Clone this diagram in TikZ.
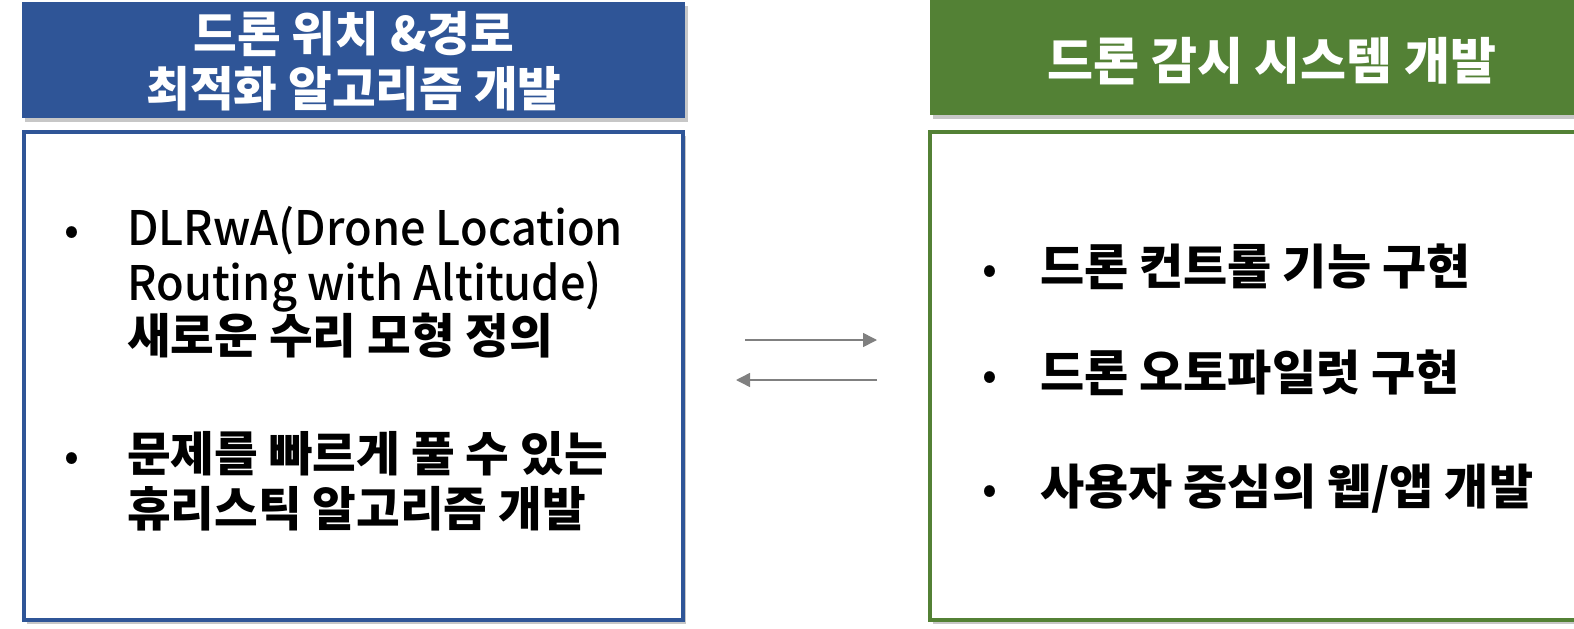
\documentclass[tikz,border=0pt]{standalone}
\usepackage{fontspec}
\setmainfont{Noto Sans CJK KR}
\newfontfamily\latmed{Noto Sans CJK KR Medium}[FakeStretch=0.95]
\usetikzlibrary{shadows,arrows.meta}
\definecolor{hblue}{HTML}{2F5597}
\definecolor{hgreen}{HTML}{538135}
\definecolor{agray}{HTML}{808080}
\tikzset{
  shd/.style={drop shadow={shadow xshift=3pt,shadow yshift=-4pt,fill=black,opacity=0.22}},
  headbox/.style={shd},
  contbox/.style={shd,fill=white,line width=4pt},
  headtxt/.style={text=white,anchor=base,inner sep=0pt},
  bodytxt/.style={anchor=base west,inner sep=0pt,font=\fontsize{47.5}{54}\selectfont},
  bodyr/.style={anchor=base west,inner sep=0pt,font=\bfseries\fontsize{48}{54}\selectfont},
  bul/.style={anchor=base,inner sep=0pt,font=\fontsize{44}{54}\selectfont},
  arr/.style={draw=agray,line width=1.5pt,-{Triangle[length=14pt,width=14pt]}}
}
\begin{document}
\begin{tikzpicture}[x=1pt,y=-1pt]
\useasboundingbox (0,0) rectangle (1574,629);
\clip (0,0) rectangle (1574,629);
% left column
\fill[hblue,headbox] (22,2) rectangle (685,118);
\node[headtxt,font=\bfseries\fontsize{47.5}{54}\selectfont] (lheada) at (354,51) {드론 위치 \&경로};
\node[headtxt,font=\bfseries\fontsize{47.5}{54}\selectfont] (lheadb) at (354,106) {최적화 알고리즘 개발};
\draw[hblue,contbox] (24,132) rectangle (683,620);
\node[bul] (lb1) at (72,245) {•};
\node[bodytxt] (l1a) at (127,245) {\latmed DLRwA(Drone Location};
\node[bodytxt] (l1b) at (127,300) {\latmed Routing with Altitude)};
\node[bodytxt] (l1c) at (127,353) {\bfseries 새로운 수리 모형 정의};
\node[bul] (lb2) at (72,471) {•};
\node[bodytxt] (l2a) at (127,471) {\bfseries 문제를 빠르게 풀 수 있는};
\node[bodytxt] (l2b) at (127,526) {\bfseries 휴리스틱 알고리즘 개발};
% right column
\fill[hgreen,headbox] (930,0) rectangle (1590,115);
\node[headtxt,font=\bfseries\fontsize{50}{54}\selectfont] (rhead) at (1272,79) {드론 감시 시스템 개발};
\draw[hgreen,contbox] (930,132) rectangle (1590,620);
\node[bul] (rb1) at (990,284) {•};
\node[bodyr] (r1) at (1040,284) {드론 컨트롤 기능 구현};
\node[bul] (rb2) at (990,390) {•};
\node[bodyr] (r2) at (1040,390) {드론 오토파일럿 구현};
\node[bul] (rb3) at (990,504) {•};
\node[bodyr] (r3) at (1040,504) {사용자 중심의 웹/앱 개발};
% arrows
\coordinate (a1s) at (745,340);
\coordinate (a1e) at (877,340);
\coordinate (a2s) at (877,380);
\coordinate (a2e) at (736,380);
\draw[arr] (a1s) -- (a1e);
\draw[arr] (a2s) -- (a2e);
\end{tikzpicture}
\end{document}
